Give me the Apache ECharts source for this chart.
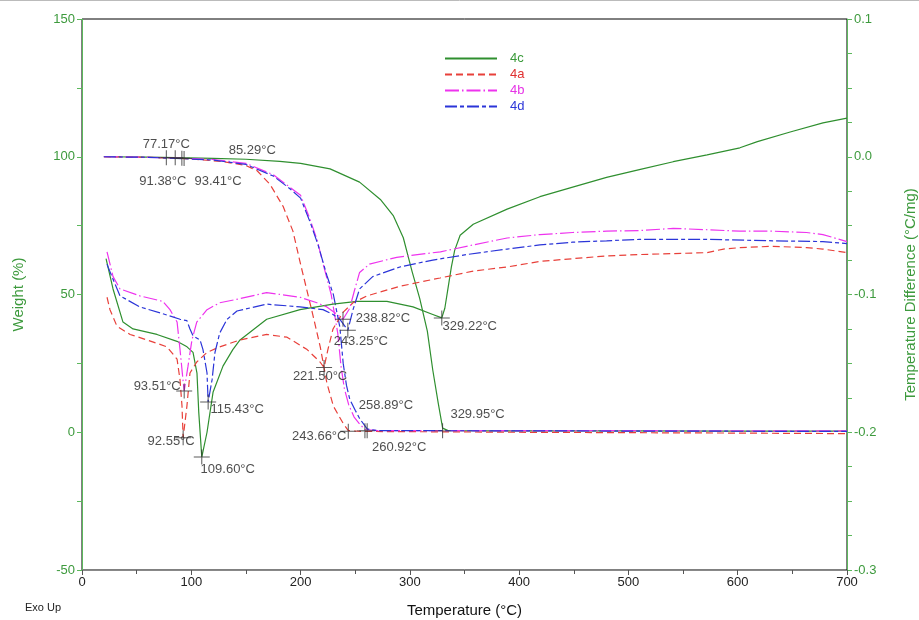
<!DOCTYPE html>
<html>
<head>
<meta charset="utf-8">
<script src="https://cdn.jsdelivr.net/npm/echarts@6/dist/echarts.min.js"></script>
<style>
html,body{margin:0;padding:0;background:#fff;}
#chart{width:919px;height:620px;}
</style>
</head>
<body>
<div id="chart"></div>
<script>
// ---------- DATA ----------
const seriesNames = ['4c', '4a', '4b', '4d'];

// TGA weight (%) vs temperature (°C)
const tga4c = [[20,100],[60,99.9],[85.29,99.7],[120,99.4],[150,99.1],[181,98.3],[200,97.6],[227,95.6],[254,90.8],[273,84.5],[285,78.5],[294,70.6],[302,58.4],[309,48.6],[316,36.7],[321,22.5],[326,10.5],[330,1.5],[335,0.6],[400,0.5],[500,0.5],[600,0.4],[700,0.4]];
const tga4a = [[20,100],[60,99.8],[77.17,99.6],[100,99.2],[130,98.2],[150,96.8],[160,95],[172,90],[184,82],[193,73],[200,61],[211,43],[218,31],[224,18],[230,9.5],[239,3.2],[243.66,0.6],[255,0.3],[400,0],[600,-0.3],[700,-0.5]];
const tga4b = [[20,100],[60,99.8],[91.38,99.5],[120,99],[150,97.6],[175,93.5],[190,89],[200,86],[208,78],[215,70],[222,59],[228,50],[234,36],[237,24],[240,16],[244,10],[249,5.5],[254,3],[258.89,1],[270,0.6],[400,0.6],[700,0.5]];
const tga4d = [[20,100],[60,99.8],[93.41,99.3],[120,98.8],[150,97.2],[175,93],[190,88.5],[200,85],[209,76],[216,68],[224,57],[230,50],[236,38],[239,25],[242,17],[245,12],[250,8],[254,5],[260.92,1.2],[270,0.6],[400,0.5],[700,0.3]];

// DTA temperature difference (°C/mg) vs temperature (°C)
const dta4c = [[22,-0.074],[28.4,-0.096],[37.5,-0.120],[46.7,-0.125],[68.6,-0.129],[86.9,-0.134],[96.1,-0.138],[101.6,-0.142],[105.2,-0.157],[106.8,-0.185],[109.6,-0.218],[114.4,-0.200],[119.9,-0.171],[129,-0.152],[138,-0.140],[144.6,-0.133],[169,-0.118],[199.5,-0.111],[229.7,-0.107],[251.6,-0.105],[279,-0.105],[302.9,-0.109],[321,-0.1145],[329.22,-0.117],[332,-0.110],[335,-0.095],[338,-0.080],[341,-0.068],[346,-0.057],[358,-0.049],[389,-0.038],[419,-0.029],[449,-0.022],[480,-0.015],[510,-0.0094],[541,-0.0036],[572,0.0014],[602,0.0065],[618,0.011],[648,0.018],[678,0.0246],[700,0.028]];
const dta4a = [[22.9,-0.102],[25.6,-0.111],[32,-0.123],[44,-0.129],[59.5,-0.133],[77.8,-0.138],[87,-0.147],[89.7,-0.162],[91.5,-0.181],[92.55,-0.204],[96,-0.181],[98.8,-0.157],[105,-0.149],[114.4,-0.142],[126,-0.138],[144.6,-0.133],[169,-0.129],[187.6,-0.131],[206,-0.140],[217.8,-0.149],[221.5,-0.153],[225,-0.140],[229.7,-0.125],[238.8,-0.113],[248,-0.106],[260.8,-0.101],[291,-0.094],[327.6,-0.088],[358,-0.083],[389,-0.080],[419,-0.076],[449,-0.074],[480,-0.072],[510,-0.071],[572,-0.0696],[587,-0.067],[602,-0.066],[632,-0.065],[663,-0.066],[678,-0.067],[700,-0.0696]];
const dta4b = [[22.9,-0.069],[28.4,-0.087],[34.8,-0.096],[53,-0.101],[74,-0.105],[80.5,-0.111],[87,-0.120],[89.7,-0.140],[92.4,-0.162],[93.51,-0.170],[97,-0.152],[100.6,-0.133],[105,-0.120],[114.4,-0.111],[126,-0.106],[144.6,-0.103],[169,-0.0986],[199.5,-0.102],[215,-0.106],[224,-0.109],[236,-0.116],[238.82,-0.118],[245,-0.110],[249,-0.098],[254,-0.084],[263,-0.078],[288,-0.073],[328,-0.069],[358,-0.064],[389,-0.059],[419,-0.0565],[449,-0.055],[480,-0.054],[510,-0.0536],[541,-0.052],[572,-0.053],[602,-0.054],[632,-0.054],[663,-0.055],[678,-0.0565],[700,-0.0616]];
const dta4d = [[22.9,-0.078],[28.4,-0.089],[34.8,-0.101],[53,-0.109],[74,-0.114],[89.7,-0.118],[96,-0.119],[98.8,-0.125],[101.6,-0.130],[108,-0.133],[110.7,-0.140],[114.4,-0.157],[115.43,-0.178],[119,-0.162],[121.7,-0.142],[126,-0.128],[132.7,-0.118],[141.8,-0.112],[169,-0.107],[199.5,-0.109],[220.5,-0.111],[229.7,-0.1145],[236,-0.118],[243.25,-0.126],[248,-0.111],[254,-0.096],[266,-0.087],[291,-0.080],[321,-0.075],[352,-0.071],[389,-0.067],[419,-0.064],[449,-0.062],[480,-0.061],[510,-0.060],[572,-0.060],[632,-0.061],[678,-0.0616],[700,-0.063]];

// Annotated points: [temperature °C, value]
const tgaMarks = [[77.17,99.6],[85.29,99.6],[91.38,99.5],[93.41,99.4],[243.66,0.4],[258.89,0.5],[260.92,0.5],[329.95,0.5]];
const dtaMarks = [[93.51,-0.170],[92.55,-0.204],[109.60,-0.218],[115.43,-0.178],[221.50,-0.153],[238.82,-0.118],[243.25,-0.126],[329.22,-0.117]];

// ---------- LAYOUT / STYLE ----------
const tgaLabelOffsets = [[0,-13],[77,-7],[-19,23],[34,23],[-29,5],[21,-25],[32,17],[35,-16]];
const dtaLabelOffsets = [[-27,-5],[-12,4],[26,12],[29,7],[-4,9],[40,-1],[13,11],[28,9]];
const colors = {'4c':'#2f8f2f','4a':'#e8403a','4b':'#ee33ee','4d':'#2b35d8'};
const textColors = {'4c':'#3a9a3a','4a':'#e03030','4b':'#e633e6','4d':'#2b35d8'};
const dashes = {'4c':'solid','4a':[7,4],'4b':[14,3,1.5,3],'4d':[12,3,4,3]};
const axisGreen = '#5cb85c';
const labelGreen = '#3d9a3d';
const FONT = 'Liberation Sans, Arial, sans-serif';

const tgaData = {'4c':tga4c,'4a':tga4a,'4b':tga4b,'4d':tga4d};
const dtaData = {'4c':dta4c,'4a':dta4a,'4b':dta4b,'4d':dta4d};

const series = [];
seriesNames.forEach(n => {
  series.push({name:n,type:'line',yAxisIndex:0,data:tgaData[n],showSymbol:false,symbol:'none',
    lineStyle:{color:colors[n],width:1.2,type:dashes[n]},itemStyle:{color:colors[n]},animation:false});
});
seriesNames.forEach(n => {
  series.push({name:n,type:'line',yAxisIndex:1,data:dtaData[n],showSymbol:false,symbol:'none',
    lineStyle:{color:colors[n],width:1.2,type:dashes[n]},itemStyle:{color:colors[n]},animation:false});
});

const crossPath = 'path://M0,8 L16,8 M8,0 L8,16';
function markSeries(marks, offsets, axisIdx){
  return {
    type:'scatter', yAxisIndex:axisIdx, symbol:crossPath, symbolSize:[16,15], silent:true, z:5,
    itemStyle:{color:'none',borderColor:'#333',borderWidth:1},
    data: marks.map((m,i)=>({value:m,label:{show:true,position:'inside',offset:offsets[i],
      formatter:m[0].toFixed(2)+'°C',color:'#222',fontSize:13,fontFamily:FONT}})),
    animation:false
  };
}
series.push(markSeries(tgaMarks,tgaLabelOffsets,0));
series.push(markSeries(dtaMarks,dtaLabelOffsets,1));

const chart = echarts.init(document.getElementById('chart'), null, {renderer:'canvas'});
chart.setOption({
  backgroundColor:'#fff',
  animation:false,
  textStyle:{fontFamily:FONT},
  grid:{left:82,right:72,top:19,bottom:50,show:true,borderColor:'#000',borderWidth:1,backgroundColor:'transparent',outerBoundsMode:'none',containLabel:false},
  legend:{
    orient:'vertical', left:439, top:47, itemWidth:52, itemHeight:10, itemGap:3,
    itemStyle:{opacity:0},
    textStyle:{fontSize:13,lineHeight:13,fontFamily:FONT,padding:[0,0,0,8]},
    data:seriesNames.map(n=>({name:n,textStyle:{color:textColors[n]}}))
  },
  xAxis:{
    type:'value',min:0,max:700,interval:100,
    name:'Temperature (°C)',nameLocation:'middle',nameGap:33,
    nameTextStyle:{color:'#111',fontSize:15,fontFamily:FONT},
    axisLine:{show:true,onZero:false,lineStyle:{color:'#888',width:1}},
    axisTick:{show:true,length:5,lineStyle:{color:'#555'}},
    minorTick:{show:true,splitNumber:2,length:4,lineStyle:{color:'#555'}},
    axisLabel:{color:'#222',fontSize:13,margin:6,fontFamily:FONT},
    splitLine:{show:false}
  },
  yAxis:[{
    type:'value',min:-50,max:150,interval:50,position:'left',
    name:'Weight (%)',nameLocation:'middle',nameGap:56,
    nameTextStyle:{color:labelGreen,fontSize:15,fontFamily:FONT},
    axisLine:{show:true,onZero:false,lineStyle:{color:axisGreen,width:1}},
    axisTick:{show:true,length:5,lineStyle:{color:axisGreen}},
    minorTick:{show:true,splitNumber:2,length:5,lineStyle:{color:axisGreen}},
    axisLabel:{color:labelGreen,fontSize:13,margin:7,fontFamily:FONT},
    splitLine:{show:false}
  },{
    type:'value',min:-0.3,max:0.1,interval:0.1,position:'right',
    name:'Temperature Difference (°C/mg)',nameLocation:'middle',nameGap:56,
    nameTextStyle:{color:labelGreen,fontSize:15,fontFamily:FONT},
    axisLine:{show:true,onZero:false,lineStyle:{color:axisGreen,width:1}},
    axisTick:{show:true,length:5,lineStyle:{color:axisGreen}},
    minorTick:{show:true,splitNumber:4,length:5,lineStyle:{color:axisGreen}},
    axisLabel:{color:labelGreen,fontSize:13,margin:7,fontFamily:FONT,formatter:v=>v.toFixed(1)},
    splitLine:{show:false}
  }],
  graphic:[
    {type:'text',left:25,top:602,style:{text:'Exo Up',fill:'#222',fontSize:11,fontFamily:FONT}},
    {type:'line',shape:{x1:0,y1:0.5,x2:919,y2:0.5},style:{stroke:'#bbb',lineWidth:1}}
  ],
  series:series
});
</script>
</body>
</html>
